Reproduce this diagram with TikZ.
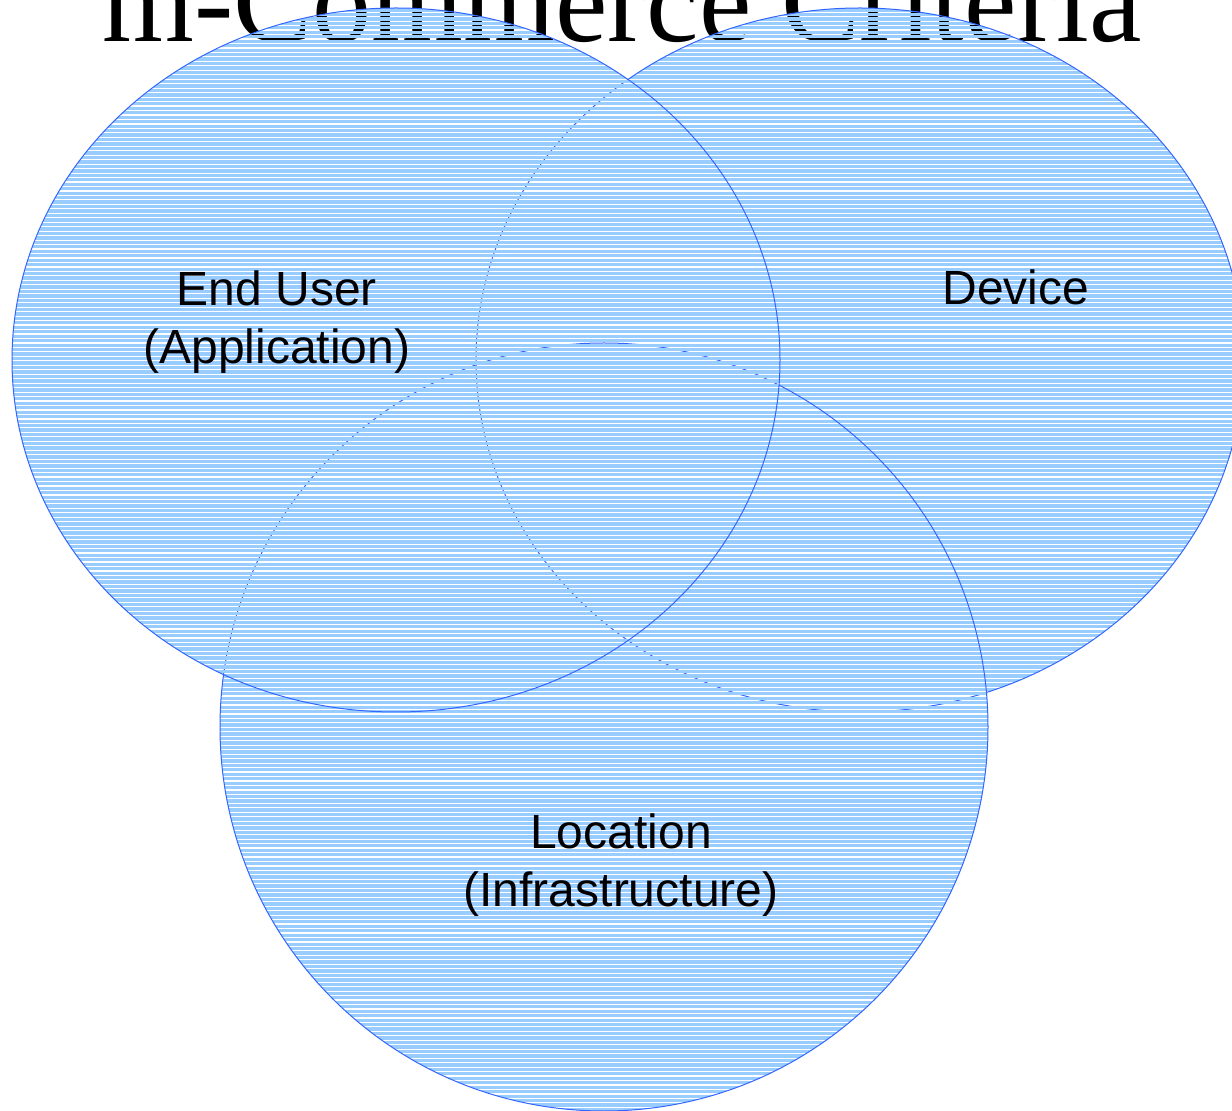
\documentclass[tikz,border=0pt]{standalone}
\usepackage{fontspec}
\setmainfont{Liberation Serif}
\newfontfamily\labelfont{Liberation Sans}
\definecolor{stripeblue}{RGB}{153,204,255}
\definecolor{rimblue}{RGB}{51,102,255}
\begin{document}
\begin{tikzpicture}[x=0.5pt,y=-0.5pt,
    stripe/.style={line width=1.65pt,color=stripeblue},
    rim/.style={draw=rimblue,line width=0.5pt},
    setlabel/.style={font=\labelfont\fontsize{24}{29}\selectfont,align=center,inner sep=0pt}]
  \useasboundingbox (0,0) rectangle (1232,1111);
  \clip (0,0) rectangle (1232,1111);
  \node[anchor=base,inner sep=0pt,font=\fontsize{59}{60}\selectfont] (title) at (622,42) {m-Commerce Criteria};
  % device, location, end user (last one on top)
  \foreach \cx/\cy/\rx/\ry in {860/360/192pt/176pt, 604/727/192pt/192pt, 396/360/192pt/176pt} {
    \begin{scope}
      \clip (\cx,\cy) ellipse [x radius=\rx, y radius=\ry];
      \foreach \y in {1,5.47,...,1111}
        \draw[stripe] (0,\y) -- (1232,\y);
    \end{scope}
    \draw[rim] (\cx,\cy) ellipse [x radius=\rx, y radius=\ry];
  }
  \node[setlabel] (enduser) at (277,322) {End User\\(Application)};
  \node[setlabel,anchor=base] (device) at (1016,305) {Device};
  \node[setlabel] (location) at (621,865) {Location\\(Infrastructure)};
\end{tikzpicture}
\end{document}
